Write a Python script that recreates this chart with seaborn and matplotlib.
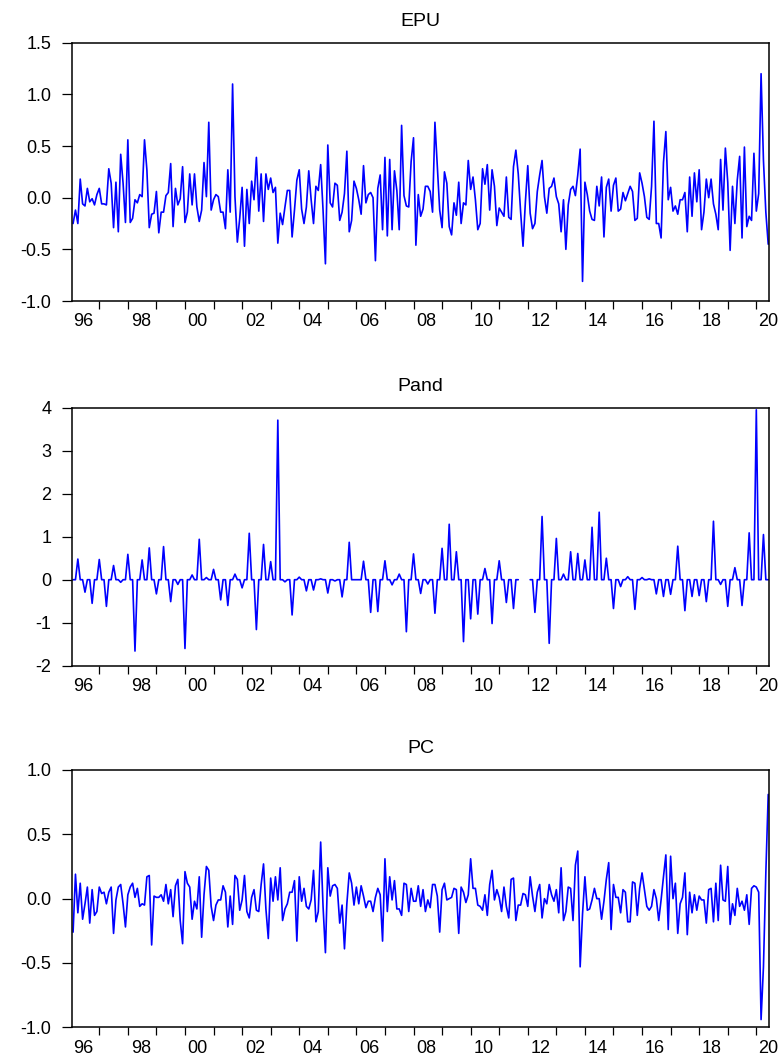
"""Three stacked monthly series (EPU, Pand, PC), EViews-like line panels."""

import numpy as np
import pandas as pd
import matplotlib
import seaborn as sns

matplotlib.use("Agg")
import matplotlib.pyplot as plt
from matplotlib.ticker import FixedLocator, FormatStrFormatter, NullFormatter

nan = np.nan

# monthly observations, 1996M02 .. 2020M06, one row per calendar year
epu_rows = [
    [-0.25, -0.12, -0.25, 0.18, -0.06, -0.08, 0.09, -0.04, -0.01, -0.07, 0.03],
    [0.09, -0.06, -0.06, -0.07, 0.28, 0.14, -0.29, 0.15, -0.33, 0.42, 0.14, -0.24],
    [0.56, -0.24, -0.20, -0.02, -0.05, 0.03, 0.01, 0.56, 0.27, -0.29, -0.16, -0.15],
    [0.06, -0.34, -0.14, -0.14, 0.02, 0.05, 0.33, -0.28, 0.09, -0.07, -0.01, 0.30],
    [-0.24, -0.14, 0.23, -0.07, 0.23, -0.09, -0.23, -0.12, 0.34, 0.01, 0.73, -0.12],
    [-0.02, 0.03, 0.01, -0.14, -0.14, -0.30, 0.27, -0.14, 1.10, 0.01, -0.43, -0.20],
    [0.10, -0.47, 0.08, -0.25, 0.16, -0.02, 0.39, -0.13, 0.23, -0.23, 0.23, 0.08],
    [0.19, 0.05, 0.10, -0.44, -0.15, -0.26, -0.09, 0.07, 0.07, -0.38, -0.12, 0.17],
    [0.27, -0.11, -0.25, -0.09, 0.26, -0.02, -0.25, 0.11, 0.07, 0.32, -0.12, -0.64],
    [0.51, -0.05, -0.09, 0.14, 0.12, -0.22, -0.14, 0.04, 0.45, -0.33, -0.22, 0.16],
    [0.09, -0.02, -0.16, 0.31, -0.05, 0.03, 0.05, 0.00, -0.61, 0.09, 0.22, -0.31],
    [0.39, -0.37, 0.37, -0.31, 0.26, 0.07, -0.31, 0.70, 0.02, -0.08, -0.09, 0.35],
    [0.58, -0.46, 0.03, -0.18, -0.11, 0.11, 0.11, 0.06, -0.14, 0.73, 0.31, -0.12],
    [-0.29, 0.25, 0.14, -0.28, -0.36, -0.05, -0.17, 0.15, -0.25, -0.05, -0.07, 0.36],
    [0.08, 0.20, -0.02, -0.31, -0.25, 0.28, 0.13, 0.32, -0.12, 0.27, 0.11, -0.27],
    [-0.10, -0.14, -0.18, 0.20, -0.19, -0.21, 0.30, 0.46, 0.23, -0.14, -0.47, -0.04],
    [0.31, -0.15, -0.30, -0.25, 0.06, 0.22, 0.36, 0.01, -0.15, 0.09, 0.11, 0.19],
    [0.01, -0.06, -0.33, -0.02, -0.50, -0.07, 0.08, 0.11, 0.02, 0.22, 0.47, -0.81],
    [0.15, 0.03, -0.13, -0.21, -0.22, 0.11, -0.08, 0.20, -0.38, 0.10, 0.18, -0.13],
    [0.12, 0.19, -0.13, -0.11, 0.05, -0.03, 0.04, 0.11, 0.06, -0.22, -0.20, 0.24],
    [0.14, 0.01, -0.19, -0.21, 0.11, 0.74, -0.25, -0.25, -0.39, 0.34, 0.64, -0.02],
    [0.10, -0.13, -0.08, -0.16, -0.02, -0.02, 0.05, -0.33, 0.20, -0.18, 0.24, -0.04],
    [0.27, -0.31, -0.14, 0.18, 0.00, 0.18, -0.06, -0.16, -0.31, 0.37, -0.12, 0.48],
    [0.15, -0.51, 0.11, -0.25, 0.17, 0.40, -0.39, 0.49, -0.28, -0.18, -0.22, 0.43],
    [-0.13, 0.04, 1.20, 0.36, -0.14, -0.45],
]

pand_rows = [
    [0, 0, 0.48, 0, 0, -0.29, 0, 0, -0.55, 0, 0],
    [0.47, 0, 0, -0.62, 0, 0, 0.33, 0, 0, -0.06, 0, 0],
    [0.59, 0, 0, -1.66, 0, 0, 0.46, 0, 0, 0.74, 0, 0],
    [-0.33, 0, 0, 0.77, 0, 0, -0.51, 0, 0, -0.11, 0, 0],
    [-1.60, 0, 0, 0.11, 0, 0, 0.94, 0, 0, 0.05, 0, 0],
    [0.24, 0, 0, -0.47, 0, 0, -0.60, 0, 0, 0.13, 0, 0],
    [-0.19, 0, 0, 1.08, 0, 0, -1.16, 0, 0, 0.82, 0, 0],
    [0.42, 0, 0, 3.71, 0, 0, -0.05, 0, 0, -0.82, 0, 0],
    [0.06, 0, 0, -0.26, 0, 0, -0.24, 0, 0, 0.02, 0, 0],
    [-0.31, 0, 0, -0.03, 0, 0, -0.40, 0, 0, 0.87, 0, 0],
    [0.00, 0, 0, 0.43, 0, 0, -0.76, 0, 0, -0.74, 0, 0],
    [0.44, 0, 0, -0.12, 0, 0, 0.13, 0, 0, -1.21, 0, 0],
    [0.60, 0, 0, -0.32, 0, 0, -0.10, 0, 0, -0.78, 0, 0],
    [0.73, 0, 0, 1.29, 0, 0, 0.65, 0, 0, -1.44, 0, 0],
    [-0.91, 0, 0, -0.80, 0, 0, 0.26, 0, 0, -1.02, 0, 0],
    [0.44, 0, 0, -0.53, 0, 0, -0.67, 0, 0, nan, nan, nan],
    [nan, 0, 0, -0.76, 0, 0, 1.47, 0, 0, -1.48, 0, 0],
    [0.96, 0, 0, 0.13, 0, 0, 0.65, 0, 0, 0.61, 0, 0],
    [0.46, 0, 0, 1.22, 0, 0, 1.57, 0, 0, 0.50, 0, 0],
    [-0.67, 0, 0, -0.16, 0, 0, 0.07, 0, 0, -0.69, 0, 0],
    [0.05, 0, 0, 0.02, 0, 0, -0.33, 0, 0, -0.39, 0, 0],
    [-0.34, 0, 0, 0.78, 0, 0, -0.72, 0, 0, -0.39, 0, 0],
    [-0.37, 0, 0, -0.51, 0, 0, 1.36, 0, 0, -0.11, 0, 0],
    [-0.62, 0, 0, 0.28, 0, 0, -0.60, 0, 0, 1.09, 0, 0],
    [3.95, 0, 0, 1.05, 0, 0],
]

pc_rows = [
    [-0.26, 0.19, -0.11, 0.12, -0.16, -0.04, 0.09, -0.19, 0.07, -0.13, -0.10],
    [0.09, 0.04, 0.05, -0.04, 0.05, 0.09, -0.27, -0.01, 0.09, 0.11, -0.04, -0.22],
    [0.03, 0.09, 0.12, 0.01, 0.08, -0.06, -0.04, -0.05, 0.17, 0.18, -0.36, 0.02],
    [0.01, 0.01, 0.03, -0.02, 0.11, -0.04, 0.07, -0.14, 0.10, 0.15, -0.17, -0.35],
    [0.21, 0.12, 0.09, -0.16, -0.02, -0.08, 0.17, -0.30, 0.03, 0.25, 0.22, -0.06],
    [-0.17, -0.05, -0.01, -0.01, 0.10, 0.05, -0.22, 0.02, -0.20, 0.18, 0.15, -0.09],
    [-0.01, 0.18, -0.10, -0.15, 0.01, 0.07, -0.09, -0.10, 0.11, 0.27, -0.08, -0.31],
    [0.16, -0.02, 0.17, -0.01, 0.24, -0.17, -0.08, -0.04, 0.05, 0.05, 0.14, -0.33],
    [0.17, -0.02, 0.08, -0.06, -0.08, -0.01, 0.22, -0.18, -0.10, 0.44, -0.06, -0.42],
    [0.24, 0.02, 0.10, 0.11, 0.08, -0.19, -0.05, -0.39, -0.04, 0.20, 0.12, -0.05],
    [0.09, -0.04, 0.10, 0.02, -0.07, -0.02, -0.02, -0.10, 0.01, 0.08, 0.03, -0.33],
    [0.31, -0.10, 0.17, -0.01, 0.14, -0.08, -0.08, -0.13, 0.12, 0.11, -0.10, 0.08],
    [-0.02, -0.02, 0.10, -0.06, 0.07, -0.10, -0.01, -0.07, 0.11, 0.11, 0.02, -0.26],
    [0.07, 0.12, -0.01, 0.00, 0.01, 0.08, 0.07, -0.27, 0.09, 0.05, -0.03, 0.03],
    [0.31, 0.08, 0.08, -0.05, -0.06, -0.09, 0.03, -0.13, 0.11, 0.22, -0.01, 0.07],
    [0.01, -0.10, 0.09, -0.06, -0.15, 0.15, 0.16, -0.17, -0.05, -0.05, 0.04, 0.03],
    [-0.06, 0.17, 0.02, -0.10, 0.05, 0.11, -0.15, 0.00, -0.04, 0.11, 0.03, -0.02],
    [0.07, -0.11, 0.24, -0.17, -0.10, 0.09, 0.08, -0.17, 0.26, 0.37, -0.53, -0.12],
    [0.17, -0.09, -0.08, -0.01, 0.08, 0.00, 0.00, -0.16, -0.02, 0.15, 0.28, -0.24],
    [0.11, 0.01, 0.01, -0.11, 0.07, 0.05, -0.18, -0.18, 0.13, 0.12, -0.13, 0.08],
    [0.20, 0.07, -0.06, -0.09, -0.06, 0.07, 0.00, -0.17, -0.01, 0.17, 0.34, -0.24],
    [0.33, 0.00, 0.12, -0.27, -0.04, 0.01, 0.20, -0.28, 0.05, -0.11, 0.03, -0.09],
    [0.02, -0.01, -0.01, -0.19, 0.07, 0.08, -0.18, 0.12, -0.17, 0.26, -0.01, -0.02],
    [0.25, -0.20, -0.04, -0.13, 0.08, -0.06, -0.02, -0.09, 0.03, -0.20, 0.08, 0.10],
    [0.09, 0.05, -0.94, -0.53, 0.20, 0.81],
]

year_labels = ["96", "98", "00", "02", "04", "06", "08", "10", "12", "14", "16", "18", "20"]
label_years = list(range(1996, 2021, 2))


def flatten(rows):
    return np.array([v for row in rows for v in row], dtype=float)


epu = flatten(epu_rows)
pand = flatten(pand_rows)
pc = flatten(pc_rows)
n = len(epu)
t = 1996 + (np.arange(n) + 1) / 12.0  # Feb 1996 onwards, decimal years

sns.set_theme(style="white")
plt.rcParams["font.family"] = ["Liberation Sans", "DejaVu Sans"]
plt.rcParams["axes.unicode_minus"] = False
for key in ("text.color", "xtick.color", "ytick.color", "axes.labelcolor"):
    plt.rcParams[key] = "black"

fig = plt.figure(figsize=(7.84, 10.55), dpi=100)
W, H = 784, 1055


def panel(top, bottom, values, title, ylim, yticks, fmt):
    left, right = 72.3, 769.0
    ax = fig.add_axes([left / W, 1 - bottom / H, (right - left) / W, (bottom - top) / H])
    df = pd.DataFrame({"t": t, "v": values})
    df["seg"] = df["v"].isna().cumsum()
    df = df.dropna()
    sns.lineplot(data=df, x="t", y="v", units="seg", estimator=None,
                 color="#0000FF", lw=1.2, ax=ax)
    pad = 0.33 / 12
    ax.set_xlim(t[0] - pad, t[-1] + pad)
    ax.set_ylim(*ylim)
    ax.set_xlabel("")
    ax.set_ylabel("")
    ax.set_title(title, fontsize=14, pad=12, color="black")

    ax.xaxis.set_major_locator(FixedLocator(np.arange(1997, 2021)))
    ax.xaxis.set_major_formatter(NullFormatter())
    lab_pos = [min(y + 0.45, t[-1]) for y in label_years]
    ax.set_xticks(lab_pos, year_labels, minor=True)
    ax.tick_params(axis="x", which="major", direction="out", length=5.5, width=0.9,
                   color="black", bottom=True)
    ax.tick_params(axis="x", which="minor", length=0, pad=9, labelsize=13, bottom=True)

    ax.set_yticks(yticks)
    ax.yaxis.set_major_formatter(FormatStrFormatter(fmt))
    ax.tick_params(axis="y", direction="out", length=7, width=0.9, pad=8,
                   labelsize=13, left=True, color="black")
    for sp in ax.spines.values():
        sp.set_visible(True)
        sp.set_color("black")
        sp.set_linewidth(1.1)
    return ax


panel(42.7, 301.0, epu, "EPU", (-1.0, 1.5), [-1.0, -0.5, 0.0, 0.5, 1.0, 1.5], "%.1f")
panel(407.7, 665.7, pand, "Pand", (-2, 4), [-2, -1, 0, 1, 2, 3, 4], "%d")
panel(770.0, 1027.3, pc, "PC", (-1.0, 1.0), [-1.0, -0.5, 0.0, 0.5, 1.0], "%.1f")

fig.savefig("out.png", dpi=100)
plt.close(fig)
